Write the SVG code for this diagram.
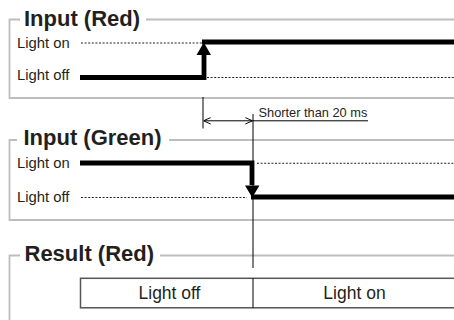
<svg xmlns="http://www.w3.org/2000/svg" width="454" height="320" viewBox="0 0 454 320">
<defs>
<style>
.frame{fill:none;stroke:#bdbdbd;stroke-width:1.8}
.title{font-family:"Liberation Sans",Arial,sans-serif;font-weight:bold;font-size:22px;fill:#231f20}
.lbl{font-family:"Liberation Sans",Arial,sans-serif;font-size:14.8px;fill:#231f20}
.res{font-family:"Liberation Sans",Arial,sans-serif;font-size:17.5px;fill:#231f20}
.small{font-family:"Liberation Sans",Arial,sans-serif;font-size:12.8px;fill:#231f20}
.dot{fill:none;stroke:#222;stroke-width:1.1;stroke-dasharray:2 1.6}
.thick{fill:none;stroke:#000;stroke-width:4.8}
.thin{fill:none;stroke:#000;stroke-width:1}
.box{fill:#fff;stroke:#555;stroke-width:1.5}
</style>
<marker id="open" viewBox="0 0 10 10" refX="10" refY="5" markerWidth="8" markerHeight="8" markerUnits="userSpaceOnUse" orient="auto-start-reverse">
<path d="M1,1 L10,5 L1,9" fill="none" stroke="#000" stroke-width="1.2"/>
</marker>
</defs>
<rect width="454" height="320" fill="#fff"/>

<g id="panel-red">
<path class="frame" d="M20,19.5 H9.5 V98 H454 M146,19.5 H454"/>
<text class="title" x="24" y="26">Input (Red)</text>
<text class="lbl" x="17" y="47.7">Light on</text>
<text class="lbl" x="17" y="80">Light off</text>
<path class="dot" d="M81,43 H203 M207,77.5 H454"/>
<path class="thick" d="M80,77.5 H204 V52 M202,42 H454"/>
<polygon points="196.5,55 211,55 203.8,42.5" fill="#000"/>
</g>

<g id="panel-green">
<path class="frame" d="M17,140 H9.5 V220 H454 M169,140 H454"/>
<text class="title" x="23.5" y="144.5">Input (Green)</text>
<text class="lbl" x="17" y="168.3">Light on</text>
<text class="lbl" x="17" y="201.7">Light off</text>
<path class="dot" d="M81,197.5 H247 M257,163.3 H454"/>
<path class="thick" d="M80,163 H252 V185 M251,197 H454"/>
<polygon points="245,185.5 259.5,185.5 252.2,197.5" fill="#000"/>
</g>

<g id="panel-result">
<path class="frame" d="M20,255.5 H9.5 V320 M160,255.5 H454"/>
<text class="title" x="24.5" y="261">Result (Red)</text>
<rect class="box" x="80.5" y="278.3" width="380" height="29.5"/>
<line class="thin" x1="253" y1="278.3" x2="253" y2="307.8"/>
<text class="res" x="169.5" y="299.3" text-anchor="middle">Light off</text>
<text class="res" x="354.5" y="299.3" text-anchor="middle">Light on</text>
</g>

<g id="connectors">
<line class="thin" x1="203" y1="97" x2="203" y2="128.5"/>
<line class="thin" x1="253" y1="114" x2="253" y2="268"/>
<line class="thin" x1="203.5" y1="120.8" x2="252.5" y2="120.8" marker-start="url(#open)" marker-end="url(#open)"/>
<line class="thin" x1="253" y1="120.8" x2="368" y2="120.8"/>
<text class="small" x="258.5" y="117">Shorter than 20 ms</text>
</g>
</svg>
